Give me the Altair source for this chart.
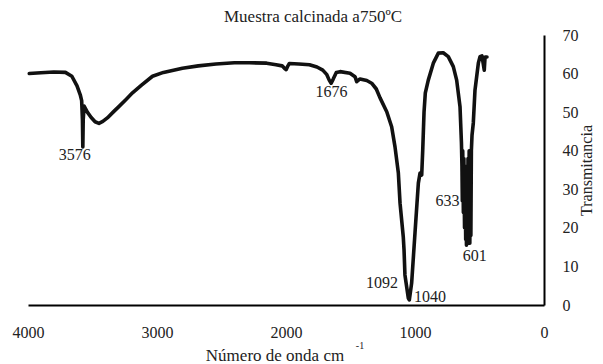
import altair as alt
import pandas as pd

# Spectrum (wavenumber cm-1, transmittance)
wavenumber = [3990, 3900, 3800, 3710, 3660, 3620, 3595, 3584, 3578, 3575, 3572, 3565, 3540, 3510,
              3480, 3450, 3420, 3385, 3340, 3294, 3240, 3190, 3120, 3035, 2950, 2803, 2680, 2543,
              2400, 2284, 2150, 2077, 2030, 2010, 1999, 1985, 1974, 1900, 1818, 1760, 1715, 1685,
              1665, 1650, 1635, 1610, 1581, 1504, 1465, 1452, 1426, 1374, 1336, 1300, 1271, 1219,
              1181, 1155, 1129, 1116, 1091, 1085, 1078, 1052, 1044, 1026, 1000, 974, 961, 948,
              940, 930, 920, 897, 858, 819, 781, 742, 703, 677, 651, 640, 636, 633, 630, 625,
              621, 616, 612, 607, 604, 601, 597, 593, 589, 584, 580, 575, 571, 567, 563, 558,
              548, 535, 509, 496, 481, 463, 457, 442]
transmittance = [60.0, 60.2, 60.4, 60.3, 59.3, 56.8, 54.5, 53.0, 48.0, 41.0, 48.0, 51.6, 50.0, 48.6,
                 47.5, 47.1, 47.6, 48.5, 50.0, 51.5, 53.3, 55.0, 57.0, 59.3, 60.3, 61.4, 62.0, 62.5,
                 62.8, 62.8, 62.7, 62.3, 62.0, 61.3, 61.0, 62.0, 62.6, 62.5, 62.3, 61.7, 60.9, 59.8,
                 58.3, 57.5, 58.5, 60.3, 60.5, 60.1, 59.2, 57.9, 58.6, 58.2, 57.5, 56.0, 53.7, 50.1,
                 46.2, 41.0, 34.2, 26.4, 17.7, 14.3, 7.8, 1.8, 1.3, 5.7, 18.7, 31.6, 34.2, 33.7,
                 40.2, 50.0, 55.0, 58.3, 62.7, 65.3, 65.4, 64.4, 61.8, 58.3, 51.4, 42.0, 36.0, 27.0,
                 40.0, 24.0, 38.0, 20.0, 36.0, 17.0, 33.0, 15.5, 34.0, 16.0, 38.0, 17.0, 40.0, 16.0,
                 38.0, 18.0, 40.0, 44.0, 47.2, 55.7, 62.7, 64.4, 64.6, 60.9, 64.3, 64.3]

# Peak annotations (text, and where the text sits in data coordinates)
peak_labels = ["3576", "1676", "1092", "1040", "633", "601"]
peak_label_x = [3637, 1647, 1256, 884, 748, 536]
peak_label_y = [38.9, 55.2, 5.7, 2.2, 27.0, 12.7]

x_ticks = [0, 1000, 2000, 3000, 4000]
y_ticks = [0, 10, 20, 30, 40, 50, 60, 70]

FONT = "Liberation Serif"
TXT = "#222222"

spec = pd.DataFrame({"wn": wavenumber, "t": transmittance})
ann = pd.DataFrame({"label": peak_labels, "wn": peak_label_x, "t": peak_label_y})

x_enc = alt.X(
    "wn:Q",
    scale=alt.Scale(domain=[0, 4000], reverse=True, nice=False),
    axis=alt.Axis(
        values=x_ticks, format="d", title="Número de onda cm", grid=False, ticks=False,
        domainColor="#000000", domainWidth=2, labelFlush=False, labelOverlap=False,
        labelFont=FONT, labelFontSize=16, labelColor=TXT, labelPadding=19,
        titleFont=FONT, titleFontSize=17, titleFontWeight="normal", titleColor=TXT,
        titleX=246.5, titleY=50, titleAlign="center", titleBaseline="middle",
    ),
)
y_enc = alt.Y(
    "t:Q",
    scale=alt.Scale(domain=[0, 70], nice=False),
    axis=alt.Axis(
        orient="right", values=y_ticks, format="d", title="Transmitancia", grid=False, ticks=False,
        domainColor="#000000", domainWidth=2, labelFlush=False, labelOverlap=False,
        labelFont=FONT, labelFontSize=16, labelColor=TXT, labelPadding=18, labelAlign="left",
        labelBaseline="middle",
        titleFont=FONT, titleFontSize=16, titleFontWeight="normal", titleColor=TXT,
        titleAngle=270, titleX=42, titleY=135, titleAlign="center", titleBaseline="middle",
    ),
)

line = alt.Chart(spec).mark_line(
    color="#111111", strokeWidth=3.6, strokeJoin="round", strokeCap="round"
).encode(x=x_enc, y=y_enc)

labels = alt.Chart(ann).mark_text(
    font=FONT, fontSize=16, color=TXT, baseline="middle", align="center"
).encode(x=x_enc, y=y_enc, text="label:N")

sup = alt.Chart(pd.DataFrame({"s": ["-1"]})).mark_text(
    font=FONT, fontSize=10, color=TXT, baseline="middle", align="center"
).encode(x=alt.value(332), y=alt.value(310.5), text="s:N")

chart = alt.layer(line, labels, sup).properties(
    width=516,
    height=270,
    title=alt.TitleParams(
        "Muestra calcinada a750ºC", font=FONT, fontSize=17, fontWeight="normal",
        color=TXT, anchor="middle", dx=27, offset=1,
    ),
    padding={"left": 20, "top": 27, "right": 51, "bottom": 59},
    autosize=alt.AutoSizeParams(type="none"),
).configure_view(stroke=None)

chart.save("out.html", embed_options={"renderer": "svg", "actions": False})
